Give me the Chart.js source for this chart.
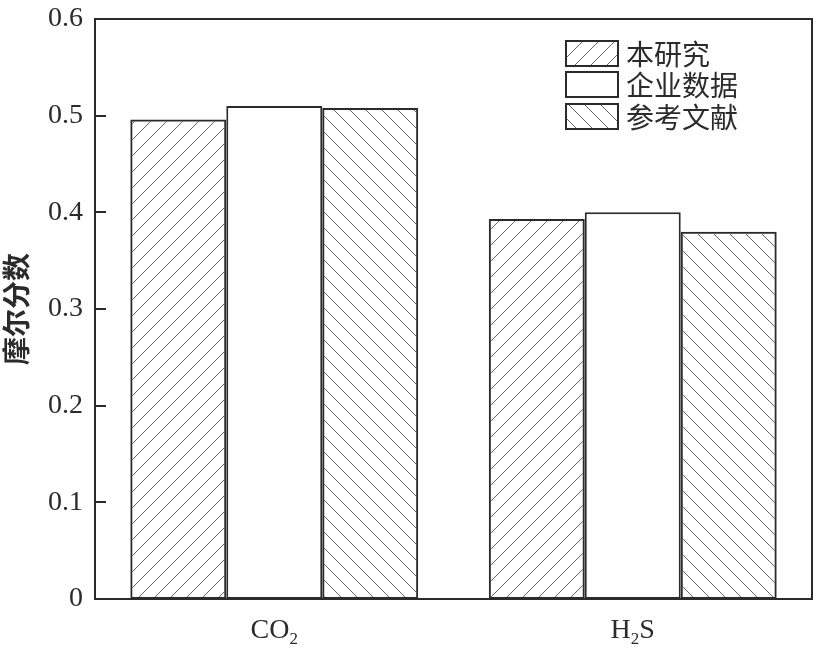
<!DOCTYPE html>
<html>
<head>
<meta charset="utf-8">
<script src="https://cdn.jsdelivr.net/npm/chart.js@4.4.1/dist/chart.umd.min.js"></script>
<style>
  html, body { margin: 0; padding: 0; background: #fff; }
  #wrap { width: 813px; height: 652px; }
</style>
</head>
<body>
<div id="wrap"><canvas id="molChart" width="813" height="652"></canvas></div>
<script>
// data
const categories = ['CO2', 'H2S'];
const seriesNames = ['本研究', '企业数据', '参考文献'];
const thisStudy = [0.496, 0.393];
const companyData = [0.510, 0.400];
const literature = [0.508, 0.380];
const yTicks = [0, 0.1, 0.2, 0.3, 0.4, 0.5, 0.6];

const INK = '#2b2b2b';
const serif = '"Liberation Serif", "DejaVu Serif", serif';
const cjk = '"Noto Sans CJK SC", sans-serif';

function hatch(dir) {
    const c = document.createElement('canvas');
    c.width = 16; c.height = 16;
    const g = c.getContext('2d');
    g.strokeStyle = '#666';
    g.lineWidth = 1;
    g.beginPath();
    if (dir === '/') {
        g.moveTo(-2, 18); g.lineTo(18, -2);
        g.moveTo(-2, 2); g.lineTo(2, -2);
        g.moveTo(14, 18); g.lineTo(18, 14);
    } else {
        g.moveTo(-2, -2); g.lineTo(18, 18);
        g.moveTo(14, -2); g.lineTo(18, 2);
        g.moveTo(-2, 14); g.lineTo(2, 18);
    }
    g.stroke();
    return g.createPattern(c, 'repeat');
}

const ctx = document.getElementById('molChart').getContext('2d');
const fills = [hatch('/'), '#ffffff', hatch('\\')];

// frame, inward y ticks, x labels with subscripts, legend inside the plot
const decorations = {
    id: 'decorations',
    afterDraw(chart) {
        const g = chart.ctx;
        const a = chart.chartArea;
        const y = chart.scales.y;
        const x = chart.scales.x;
        g.save();
        g.strokeStyle = INK;
        g.lineWidth = 2;
        g.strokeRect(a.left, a.top, a.right - a.left, a.bottom - a.top);
        g.beginPath();
        yTicks.forEach(v => {
            const py = Math.round(y.getPixelForValue(v));
            g.moveTo(a.left, py); g.lineTo(a.left + 11, py);
        });
        g.stroke();

        // category labels
        g.fillStyle = INK;
        g.textBaseline = 'alphabetic';
        const base = 638;
        categories.forEach((cat, i) => {
            const cx = x.getPixelForValue(i);
            const parts = cat === 'CO2' ? [['CO', 0], ['2', 1]] : [['H', 0], ['2', 1], ['S', 0]];
            let w = 0;
            parts.forEach(p => {
                g.font = p[1] ? '17px ' + serif : '28px ' + serif;
                w += g.measureText(p[0]).width;
            });
            let px = cx - w / 2;
            parts.forEach(p => {
                g.font = p[1] ? '17px ' + serif : '28px ' + serif;
                g.textAlign = 'left';
                g.fillText(p[0], px, p[1] ? base + 6 : base);
                px += g.measureText(p[0]).width;
            });
        });

        // legend
        const boxX = 566, boxW = 52, boxH = 25;
        const rows = [41, 72, 104];
        seriesNames.forEach((name, i) => {
            g.fillStyle = fills[i];
            g.fillRect(boxX, rows[i], boxW, boxH);
            g.lineWidth = 2;
            g.strokeStyle = INK;
            g.strokeRect(boxX, rows[i], boxW, boxH);
            g.fillStyle = INK;
            g.font = '28px ' + cjk;
            g.textAlign = 'left';
            g.textBaseline = 'middle';
            g.fillText(name, 626, rows[i] + boxH / 2 + 1);
        });
        g.restore();
    }
};

new Chart(ctx, {
    type: 'bar',
    data: {
        labels: categories,
        datasets: [
            { label: seriesNames[0], data: thisStudy, backgroundColor: fills[0] },
            { label: seriesNames[1], data: companyData, backgroundColor: fills[1] },
            { label: seriesNames[2], data: literature, backgroundColor: fills[2] },
        ].map(d => Object.assign(d, {
            borderColor: INK,
            borderWidth: 2,
            borderSkipped: false,
            categoryPercentage: 0.803,
            barPercentage: 1.0,
        })),
    },
    options: {
        responsive: false,
        animation: false,
        devicePixelRatio: 1,
        layout: { padding: { top: 19, right: 1, left: 0, bottom: 0 } },
        plugins: {
            legend: { display: false },
            tooltip: { enabled: false },
        },
        scales: {
            x: {
                grid: { display: false },
                border: { display: false },
                ticks: { display: false },
                afterFit: function (scale) { scale.height = 53; },
            },
            y: {
                min: 0,
                max: 0.6,
                afterBuildTicks: function (scale) {
                    scale.ticks = yTicks.map(v => ({ value: v }));
                },
                grid: { display: false, drawTicks: false },
                border: { display: false },
                ticks: {
                    padding: 12,
                    color: INK,
                    font: { family: serif, size: 28 },
                    callback: v => (v === 0 ? '0' : v.toFixed(1)),
                },
                title: {
                    display: true,
                    text: '摩尔分数',
                    color: INK,
                    font: { family: cjk, size: 28, weight: 'bold' },
                    padding: { top: 0, bottom: 0 },
                },
                afterFit: function (scale) {
                    scale.width = 95;
                    scale.paddingTop = 0;
                    scale.paddingBottom = 0;
                },
            },
        },
    },
    plugins: [decorations],
});
</script>
</body>
</html>
